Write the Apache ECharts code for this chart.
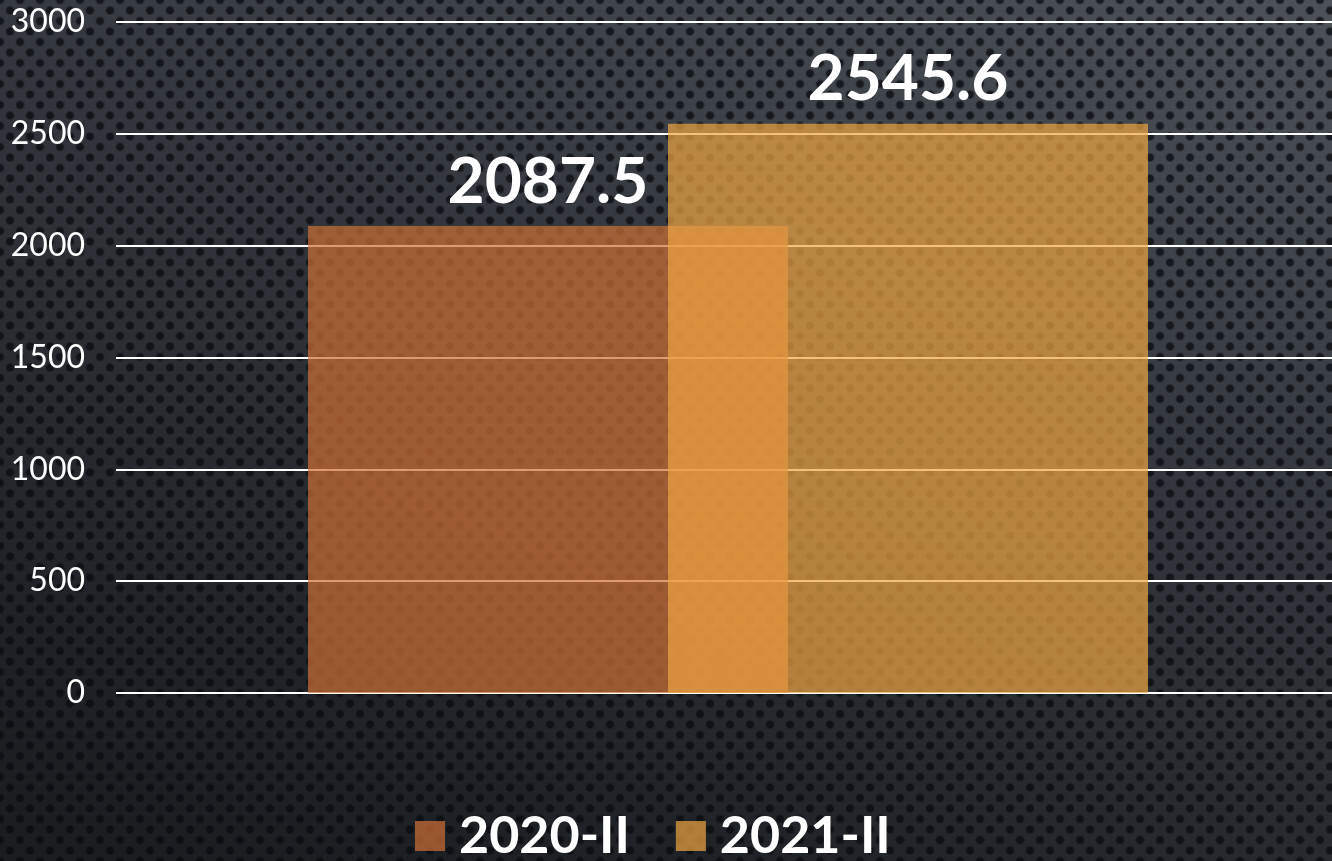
<!DOCTYPE html>
<html>
<head>
<meta charset="utf-8">
<script src="https://cdn.jsdelivr.net/npm/echarts@6/dist/echarts.min.js"></script>
<style>
html, body { margin: 0; padding: 0; }
body {
    width: 1332px; height: 861px; overflow: hidden;
    background-color: #2b2e33;
    background-image:
        radial-gradient(circle, rgba(8,10,14,0.75) 3px, rgba(8,10,14,0) 5px),
        radial-gradient(circle, rgba(8,10,14,0.75) 3px, rgba(8,10,14,0) 5px),
        linear-gradient(200deg, #4d5259 0%, #33373d 40%, #1f2226 80%, #1a1c1f 100%);
    background-size: 20px 21px, 20px 21px, 100% 100%;
    background-position: 0 0, 10px 10.5px, 0 0;
}
/* 稍宽于窗口，让柱组居中位置与原图一致 */
#chart { width: 1340px; height: 861px; }
</style>
</head>
<body>
<div id="chart"></div>
<script>
// 数据
var categories = [''];
var seriesNames = ['2020-II', '2021-II'];
var values2020 = [2087.5];
var values2021 = [2545.6];
var yTicks = { min: 0, max: 3000, interval: 500 };

var myChart = echarts.init(document.getElementById('chart'), null, { renderer: 'canvas' });
var labelStyle = {
    show: true,
    position: 'top',
    distance: 12,
    color: '#ffffff',
    fontSize: 64,
    fontWeight: 'bold',
    fontFamily: 'Lato'
};
var option = {
    backgroundColor: 'transparent',
    animation: false,
    grid: { left: 116, right: 0, top: 22, bottom: 168 },
    legend: {
        data: seriesNames,
        bottom: -6,
        left: 410,
        icon: 'rect',
        itemWidth: 30,
        itemHeight: 30,
        itemGap: 46,
        textStyle: {
            color: '#ffffff',
            fontSize: 52,
            fontWeight: 'bold',
            fontFamily: 'Lato',
            padding: [0, 0, 0, 9]
        }
    },
    xAxis: [{
        type: 'category',
        data: categories,
        axisLine: { show: false },
        axisTick: { show: false },
        axisLabel: { show: false }
    }],
    yAxis: [{
        type: 'value',
        min: yTicks.min,
        max: yTicks.max,
        interval: yTicks.interval,
        axisLine: { show: false },
        axisTick: { show: false },
        axisLabel: {
            color: '#ffffff',
            fontSize: 32,
            fontFamily: 'Lato',
            margin: 31,
            formatter: function (v) { return String(v); }
        },
        splitLine: { lineStyle: { color: '#ffffff', width: 2 } }
    }],
    series: [
        {
            name: seriesNames[0],
            type: 'bar',
            data: values2020,
            barWidth: 480,
            barGap: '-25%',
            itemStyle: { color: 'rgba(208,113,54,0.7)' },
            label: labelStyle
        },
        {
            name: seriesNames[1],
            type: 'bar',
            data: values2021,
            barWidth: 480,
            itemStyle: { color: 'rgba(239,166,67,0.7)' },
            label: labelStyle
        }
    ]
};
myChart.setOption(option, true);
</script>
</body>
</html>
